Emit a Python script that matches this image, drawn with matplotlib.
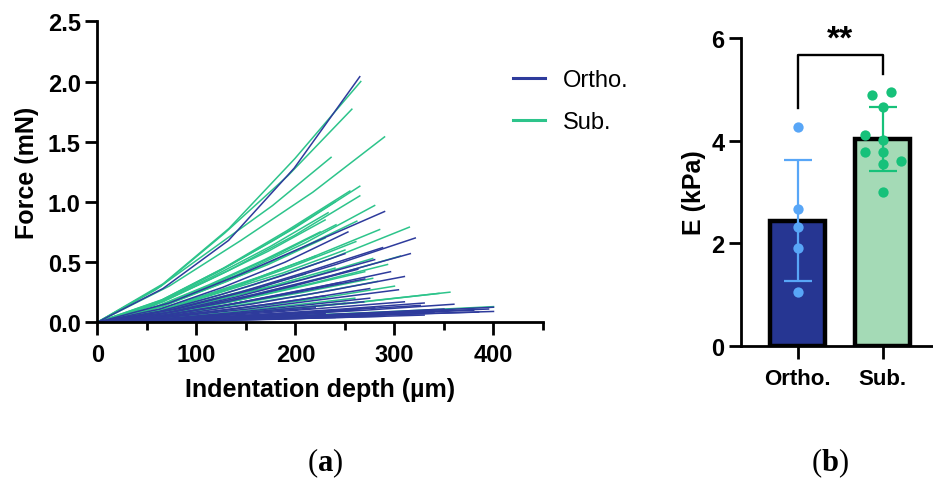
import matplotlib
matplotlib.use("Agg")
import matplotlib.pyplot as plt
import numpy as np
from matplotlib.lines import Line2D
from matplotlib.ticker import MultipleLocator

plt.rcParams['font.family'] = ['Liberation Sans', 'DejaVu Sans']
plt.rcParams['mathtext.fontset'] = 'custom'
plt.rcParams['mathtext.bf'] = 'Liberation Serif:bold'
plt.rcParams['mathtext.rm'] = 'Liberation Serif'

# (a) force-indentation curves
# end depth (um) and force (mN) read at 1/4, 1/2, 3/4 and full depth
ortho_depth = [265, 290, 321, 316, 296, 304, 326, 400, 400, 288, 253, 275, 269, 263, 245, 280,
               230, 260, 350, 380, 300, 220, 270, 340, 290, 250, 200, 310, 395, 330, 275, 240,
               360, 385, 310, 280, 230, 330]
ortho_force = [
    [0.28, 0.68, 1.28, 2.04], [0.16, 0.40, 0.66, 0.92], [0.11, 0.28, 0.48, 0.70],
    [0.09, 0.23, 0.39, 0.57], [0.065, 0.17, 0.29, 0.42], [0.045, 0.11, 0.19, 0.27],
    [0.022, 0.06, 0.10, 0.14], [0.02, 0.05, 0.085, 0.125], [0.015, 0.04, 0.065, 0.09],
    [0.10, 0.25, 0.43, 0.62], [0.11, 0.29, 0.50, 0.75], [0.045, 0.11, 0.19, 0.28],
    [0.028, 0.07, 0.12, 0.17], [0.07, 0.17, 0.30, 0.44], [0.05, 0.13, 0.23, 0.33],
    [0.08, 0.21, 0.36, 0.52], [0.035, 0.09, 0.15, 0.22], [0.016, 0.04, 0.07, 0.10],
    [0.02, 0.045, 0.075, 0.11], [0.016, 0.04, 0.07, 0.10], [0.012, 0.03, 0.05, 0.07],
    [0.02, 0.05, 0.085, 0.12], [0.06, 0.15, 0.25, 0.36], [0.014, 0.035, 0.06, 0.085],
    [0.008, 0.02, 0.035, 0.05], [0.09, 0.23, 0.39, 0.57], [0.013, 0.035, 0.055, 0.08],
    [0.06, 0.15, 0.26, 0.38], [0.02, 0.05, 0.08, 0.11], [0.01, 0.025, 0.04, 0.06],
    [0.03, 0.08, 0.14, 0.20], [0.006, 0.015, 0.025, 0.04], [0.025, 0.06, 0.10, 0.15],
    [0.015, 0.035, 0.06, 0.085], [0.03, 0.07, 0.12, 0.17], [0.02, 0.05, 0.085, 0.12],
    [0.012, 0.03, 0.05, 0.075], [0.025, 0.065, 0.11, 0.16],
]

sub_depth = [266, 257, 290, 236, 265, 255, 280, 233, 241, 262, 315, 285, 261, 306, 278, 293, 283,
             356, 345, 400, 278, 250, 230, 220, 240, 300, 200, 260, 230, 250, 210, 265, 240, 270, 225]
sub_force = [
    [0.32, 0.78, 1.36, 2.00], [0.30, 0.74, 1.22, 1.77], [0.30, 0.68, 1.08, 1.54],
    [0.27, 0.62, 0.97, 1.37], [0.19, 0.47, 0.78, 1.13], [0.18, 0.45, 0.76, 1.09],
    [0.15, 0.39, 0.66, 0.97], [0.15, 0.38, 0.63, 0.91], [0.13, 0.33, 0.56, 0.81],
    [0.13, 0.34, 0.58, 0.84], [0.12, 0.31, 0.53, 0.79], [0.12, 0.31, 0.53, 0.77],
    [0.10, 0.27, 0.46, 0.67], [0.08, 0.22, 0.37, 0.55], [0.08, 0.22, 0.36, 0.53],
    [0.07, 0.19, 0.33, 0.48], [0.05, 0.14, 0.23, 0.34], [0.04, 0.10, 0.17, 0.25],
    [0.035, 0.10, 0.16, 0.24], [0.02, 0.055, 0.09, 0.13], [0.055, 0.15, 0.25, 0.365],
    [0.09, 0.25, 0.41, 0.60], [0.14, 0.36, 0.59, 0.85], [0.09, 0.23, 0.38, 0.55],
    [0.07, 0.19, 0.31, 0.45], [0.045, 0.12, 0.20, 0.30], [0.05, 0.13, 0.21, 0.30],
    [0.03, 0.08, 0.14, 0.20], [0.11, 0.29, 0.48, 0.70], [0.025, 0.07, 0.11, 0.16],
    [0.065, 0.17, 0.28, 0.40], [0.17, 0.43, 0.72, 1.05], [0.16, 0.41, 0.69, 1.00],
    [0.065, 0.17, 0.29, 0.42], [0.12, 0.31, 0.52, 0.75],
]

# (b) elastic modulus (kPa)
groups = ["Ortho.", "Sub."]
ortho_E = [4.26, 2.67, 2.31, 1.91, 1.04]
sub_E = [4.88, 4.95, 4.66, 4.11, 4.02, 3.77, 3.77, 3.61, 3.54, 2.99]
sub_jitter = [-0.12, 0.10, 0.0, -0.21, 0.0, -0.21, 0.0, 0.21, 0.0, 0.0]

blue_line = "#2e3b9c"
green_line = "#2dc48b"

fig = plt.figure(figsize=(9.33, 4.81), dpi=100)

# ---------------- panel a ----------------
ax = fig.add_axes([0.1043, 0.3279, 0.4777, 0.6257])
for d, f in zip(sub_depth, sub_force):
    ax.plot([0, d / 4, d / 2, 3 * d / 4, d], [0] + f, color=green_line, lw=1.1)
for d, f in zip(ortho_depth, ortho_force):
    ax.plot([0, d / 4, d / 2, 3 * d / 4, d], [0] + f, color=blue_line, lw=1.1)

ax.set_xlim(0, 450)
ax.set_ylim(0, 2.5)
ax.xaxis.set_major_locator(MultipleLocator(100))
ax.xaxis.set_minor_locator(MultipleLocator(50))
ax.yaxis.set_major_locator(MultipleLocator(0.5))
ax.yaxis.set_major_formatter(plt.FormatStrFormatter('%.1f'))
for s in ['top', 'right']:
    ax.spines[s].set_visible(False)
for s in ['left', 'bottom']:
    ax.spines[s].set_linewidth(2.0)
ax.tick_params(axis='x', which='major', length=9, width=2.0, pad=6, labelsize=17)
ax.tick_params(axis='x', which='minor', length=6, width=2.0)
ax.tick_params(axis='y', length=9, width=2.0, pad=3, labelsize=17)
for lab in ax.get_xticklabels() + ax.get_yticklabels():
    lab.set_fontweight('bold')
ax.set_xlabel("Indentation depth (µm)", fontsize=18, fontweight='bold', labelpad=8)
ax.set_ylabel("Force (mN)", fontsize=18, fontweight='bold', labelpad=6)

handles = [Line2D([], [], color=blue_line, lw=2.2), Line2D([], [], color=green_line, lw=2.2)]
ax.legend(handles, groups, loc='upper left', bbox_to_anchor=(0.933, 0.841), frameon=False,
          fontsize=17, handlelength=1.36, handletextpad=0.75, labelspacing=0.85,
          borderpad=0, borderaxespad=0)

# ---------------- panel b ----------------
bx = fig.add_axes([0.7942, 0.2792, 0.2058, 0.6397])
means = [np.mean(ortho_E), np.mean(sub_E)]
sds = [np.std(ortho_E, ddof=1), np.std(sub_E, ddof=1)]
bx.bar([0, 1], means, width=0.64, color=["#263692", "#a4dab6"], edgecolor='black', linewidth=3.2,
       zorder=2)
pt_colors = ["#58a6f7", "#17c17a"]
for i in range(2):
    bx.errorbar(i, means[i], yerr=sds[i], color=pt_colors[i], lw=1.6, capsize=10, capthick=1.6,
                zorder=3)
bx.scatter(np.zeros(len(ortho_E)), ortho_E, s=55, color=pt_colors[0], zorder=4, linewidths=0)
bx.scatter(1 + np.array(sub_jitter), sub_E, s=55, color=pt_colors[1], zorder=4, linewidths=0)

# significance bracket
bx.plot([0, 0, 1, 1], [4.63, 5.66, 5.66, 5.30], color='black', lw=1.7, clip_on=False)
bx.text(0.5, 5.98, "**", ha='center', va='center', fontsize=24, fontweight='bold')

bx.set_xlim(-0.667, 1.592)
bx.set_ylim(0, 6)
bx.set_yticks([0, 2, 4, 6])
bx.set_xticks([0, 1])
bx.set_xticklabels(groups)
for s in ['top', 'right']:
    bx.spines[s].set_visible(False)
for s in ['left', 'bottom']:
    bx.spines[s].set_linewidth(2.0)
bx.tick_params(axis='x', length=9, width=2.0, pad=7, labelsize=16)
bx.tick_params(axis='y', length=9, width=2.0, pad=3, labelsize=17)
for lab in bx.get_xticklabels() + bx.get_yticklabels():
    lab.set_fontweight('bold')
bx.set_ylabel("E (kPa)", fontsize=18, fontweight='bold', labelpad=4)

# sub captions
fig.text(325 / 933, 1 - 463 / 481, r"($\mathbf{a}$)", fontsize=22, family='Liberation Serif',
         ha='center', va='center')
fig.text(830 / 933, 1 - 463 / 481, r"($\mathbf{b}$)", fontsize=22, family='Liberation Serif',
         ha='center', va='center')

fig.savefig("out.png", dpi=100)
